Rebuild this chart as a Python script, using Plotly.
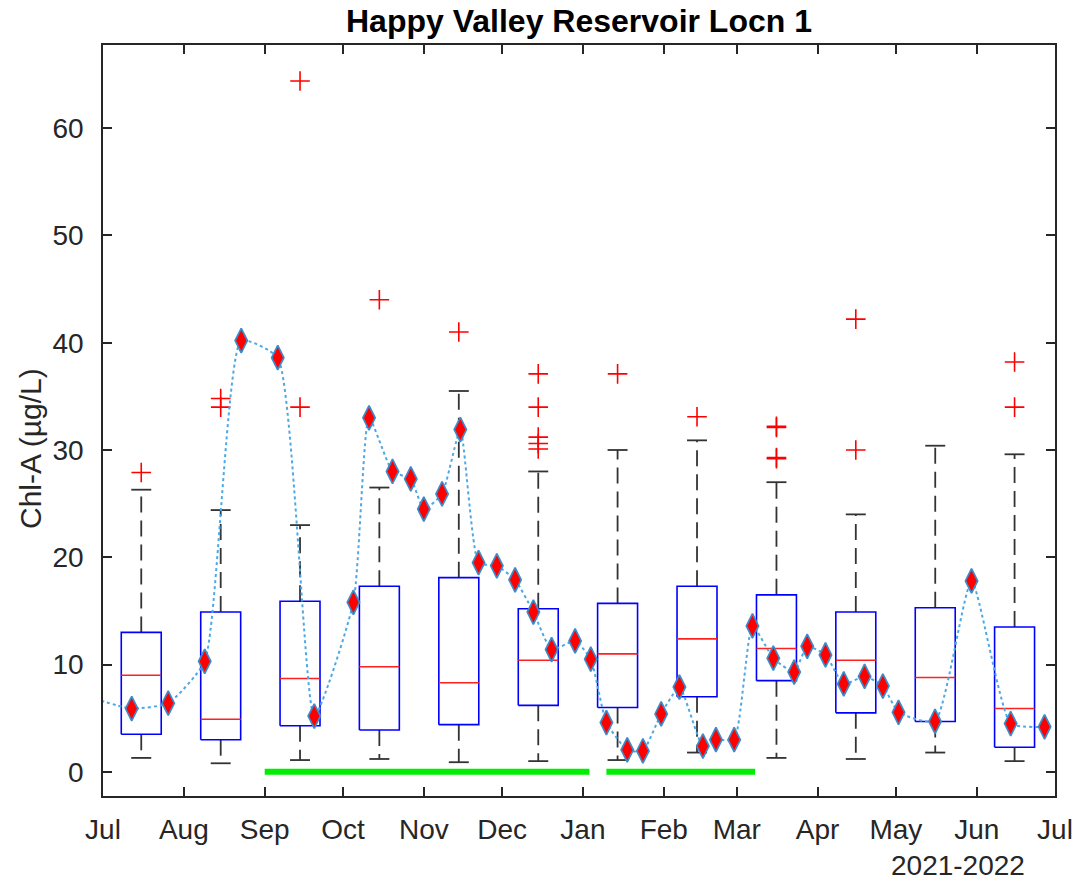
import plotly.graph_objects as go
import pandas as pd

# ---------------- data ----------------
months = ["Jul", "Aug", "Sep", "Oct", "Nov", "Dec", "Jan", "Feb", "Mar", "Apr", "May", "Jun"]
box_centers = ["2021-07-15 16:00", "2021-08-15 03:00", "2021-09-14 13:00", "2021-10-14 23:00",
               "2021-11-14 10:00", "2021-12-14 21:00", "2022-01-14 07:00", "2022-02-13 18:00",
               "2022-03-16 05:00", "2022-04-15 15:00", "2022-05-16 02:00", "2022-06-15 12:00"]
q1 = [3.5, 3.0, 4.3, 3.9, 4.4, 6.2, 6.0, 7.0, 8.5, 5.5, 4.7, 2.3]
median = [9.0, 4.9, 8.7, 9.8, 8.3, 10.4, 11.0, 12.4, 11.5, 10.4, 8.8, 5.9]
q3 = [13.0, 14.9, 15.9, 17.3, 18.1, 15.2, 15.7, 17.3, 16.5, 14.9, 15.3, 13.5]
whisker_low = [1.3, 0.8, 1.1, 1.2, 0.9, 1.0, 1.1, 1.8, 1.3, 1.2, 1.8, 1.0]
whisker_high = [26.3, 24.4, 23.0, 26.5, 35.5, 28.0, 30.0, 30.9, 27.0, 24.0, 30.4, 29.6]
outliers = [[27.9], [34.8, 34.0], [64.4, 34.0], [44.0], [41.0],
            [37.1, 34.0, 31.2, 30.6, 30.1], [37.1], [33.1],
            [32.1, 32.2, 29.2, 29.3], [42.2, 30.0], [], [38.2, 34.0]]

sample_dates = ["2021-07-12", "2021-07-26", "2021-08-09", "2021-08-23", "2021-09-06", "2021-09-20",
                "2021-10-05", "2021-10-11", "2021-10-20", "2021-10-27", "2021-11-01", "2021-11-08",
                "2021-11-15", "2021-11-22", "2021-11-29", "2021-12-06", "2021-12-13", "2021-12-20",
                "2021-12-29", "2022-01-04", "2022-01-10", "2022-01-18", "2022-01-24", "2022-01-31",
                "2022-02-07", "2022-02-16", "2022-02-21", "2022-02-28", "2022-03-07", "2022-03-15",
                "2022-03-23", "2022-03-28", "2022-04-04", "2022-04-11", "2022-04-19", "2022-04-26",
                "2022-05-02", "2022-05-16", "2022-05-30", "2022-06-14", "2022-06-27"]
sample_values = [5.9, 6.4, 10.3, 40.2, 38.6, 5.2, 15.8, 33.0, 28.0, 27.3, 24.5, 25.9,
                 31.9, 19.5, 19.2, 17.9, 14.9, 11.4, 12.2, 10.5, 4.6, 2.05, 1.95, 5.4,
                 7.9, 2.4, 3.0, 3.0, 13.6, 10.6, 9.3, 11.7, 10.9, 8.2, 8.9, 8.0,
                 5.55, 4.7, 17.8, 4.5, 4.2]
# previous sample (before the axis start) that the dotted line comes from
prior_date = "2021-06-28"
prior_value = 6.8

period_starts = ["2021-09-01", "2022-01-10"]
period_ends = ["2022-01-03 12:00", "2022-03-08"]
period_level = 0

x_ticks = ["2021-07-01", "2021-08-01", "2021-09-01", "2021-10-01", "2021-11-01", "2021-12-01",
           "2022-01-01", "2022-02-01", "2022-03-01", "2022-04-01", "2022-05-01", "2022-06-01",
           "2022-07-01"]
x_tick_labels = months + ["Jul"]
y_ticks = [0, 10, 20, 30, 40, 50, 60]

# ---------------- figure ----------------
FONT = "Liberation Sans, Arial, Helvetica, sans-serif"
TXT = "#262626"
half_w = pd.Timedelta(days=7.66)
cap_w = pd.Timedelta(days=3.83)

W, H = 1076, 882
ML, MT, MR, MB = 103, 45, 21, 86
PW, PH = W - ML - MR, H - MT - MB


def s(t):
    return t.strftime("%Y-%m-%d %H:%M:%S")


centers = [pd.Timestamp(c) for c in box_centers]

fig = go.Figure()

# green periods at y = 0
gx, gy = [], []
for a, b in zip(period_starts, period_ends):
    gx += [a, b, None]
    gy += [period_level, period_level, None]
fig.add_trace(go.Scatter(x=gx, y=gy, mode="lines", line=dict(color="#00EE00", width=6),
                         hoverinfo="skip", showlegend=False))

# whiskers (dashed) and caps
wx, wy = [], []
cx, cy = [], []
for c, a, b, lo, hi in zip(centers, q1, q3, whisker_low, whisker_high):
    wx += [s(c), s(c), None, s(c), s(c), None]
    wy += [b, hi, None, a, lo, None]
    cx += [s(c - cap_w), s(c + cap_w), None, s(c - cap_w), s(c + cap_w), None]
    cy += [hi, hi, None, lo, lo, None]
fig.add_trace(go.Scatter(x=wx, y=wy, mode="lines", line=dict(color="#333333", width=1.8, dash="16px,8px"),
                         hoverinfo="skip", showlegend=False))
fig.add_trace(go.Scatter(x=cx, y=cy, mode="lines", line=dict(color="#333333", width=1.8),
                         hoverinfo="skip", showlegend=False))

# boxes and medians
bx, by = [], []
mx, my = [], []
for c, a, m, b in zip(centers, q1, median, q3):
    l, r = s(c - half_w), s(c + half_w)
    bx += [l, r, r, l, l, None]
    by += [a, a, b, b, a, None]
    mx += [l, r, None]
    my += [m, m, None]
fig.add_trace(go.Scatter(x=bx, y=by, mode="lines", line=dict(color="#0000FF", width=1.6),
                         hoverinfo="skip", showlegend=False))
fig.add_trace(go.Scatter(x=mx, y=my, mode="lines", line=dict(color="#FF2020", width=1.6),
                         hoverinfo="skip", showlegend=False))

# outliers
ox, oy = [], []
for c, vals in zip(centers, outliers):
    for v in vals:
        ox.append(s(c))
        oy.append(v)
fig.add_trace(go.Scatter(x=ox, y=oy, mode="markers",
                         marker=dict(symbol="cross-thin", size=14, line=dict(color="#FF0000", width=1.6)),
                         hoverinfo="skip", showlegend=False))

# dotted connecting line + diamonds
fig.add_trace(go.Scatter(x=[prior_date] + sample_dates, y=[prior_value] + sample_values, mode="lines",
                         line=dict(color="#4DA8E6", width=2, dash="dot", shape="spline", smoothing=0.5),
                         hoverinfo="skip", showlegend=False))
fig.add_trace(go.Scatter(x=sample_dates, y=sample_values, mode="markers",
                         marker=dict(symbol="diamond-tall", size=17.5, color="#FF0000",
                                     line=dict(color="#3A8CCB", width=1.7)),
                         showlegend=False))

fig.update_layout(
    width=W, height=H,
    margin=dict(l=ML, r=MR, t=MT, b=MB, autoexpand=False),
    paper_bgcolor="white", plot_bgcolor="white",
    font=dict(family=FONT, size=28, color=TXT),
    title=dict(text="<b>Happy Valley Reservoir Locn 1</b>", x=0.5, xanchor="center",
               xref="paper", y=1 - 21 / H, yanchor="middle",
               font=dict(family=FONT, size=32, color="#000000")),
    showlegend=False,
)
fig.update_xaxes(
    type="date", range=["2021-07-01", "2022-07-01"], automargin=False,
    tickmode="array", tickvals=x_ticks, ticktext=x_tick_labels,
    ticks="inside", ticklen=9, tickwidth=1.5, tickcolor=TXT,
    showline=True, linecolor=TXT, linewidth=1.5, mirror="ticks",
    showgrid=False, zeroline=False, ticklabelstandoff=8,
    tickfont=dict(family=FONT, size=28, color=TXT),
)
fig.update_yaxes(
    range=[-2.25, 67.75], tickmode="array", tickvals=y_ticks, automargin=False,
    ticks="inside", ticklen=9, tickwidth=1.5, tickcolor=TXT,
    showline=True, linecolor=TXT, linewidth=1.5, mirror="ticks",
    showgrid=False, zeroline=False, ticklabelstandoff=12,
    tickfont=dict(family=FONT, size=28, color=TXT),
)
# y-axis label: centre at (30, 449) in page pixels
fig.add_annotation(text="Chl-A (µg/L)", textangle=-90, xref="paper", yref="paper",
                   x=-(ML - 30) / PW, y=(MT + PH - 449) / PH, xanchor="center", yanchor="middle",
                   showarrow=False, font=dict(family=FONT, size=30, color=TXT))
# period label below the month ticks: right edge 1027, centre y 866
fig.add_annotation(text="2021-2022", xref="paper", yref="paper",
                   x=(1027 - ML) / PW, y=-(865 - (MT + PH)) / PH, xanchor="right", yanchor="middle",
                   showarrow=False, font=dict(family=FONT, size=28, color=TXT))

fig.write_html(
    "out.html",
    config={"displayModeBar": False},
    post_script="document.body.style.margin='0';document.documentElement.style.overflow='hidden';",
)
